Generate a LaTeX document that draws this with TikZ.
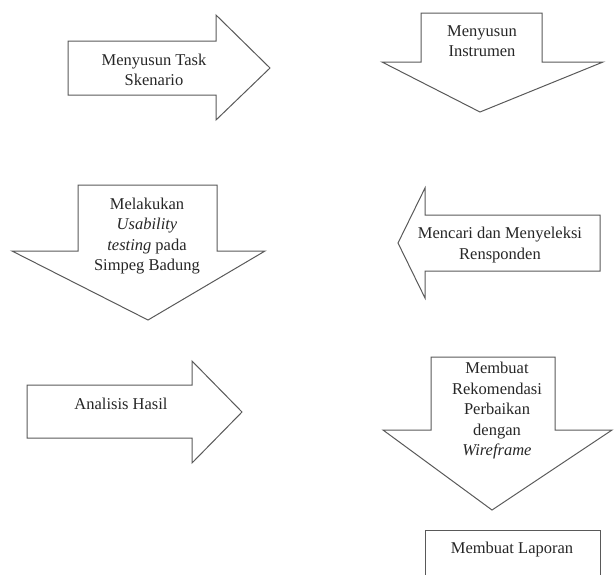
\documentclass[tikz,border=0pt]{standalone}
\usepackage{fontspec}
\setmainfont{Liberation Serif}
\newcommand{\TxtSize}{16.5}
\newcommand{\TxtSkip}{20.5}

\begin{document}
\begin{tikzpicture}[x=1pt,y=-1pt,
  blockarrow/.style={draw=black!65, line width=1pt, line join=miter},
  label/.style={font=\fontsize{\TxtSize}{\TxtSkip}\selectfont, align=center, text=black!85, inner sep=0pt}
]
\useasboundingbox (0,0) rectangle (615,574);

% ----- Row 1 -----
\draw[blockarrow] (68,41) -- (216,41) -- (216,15) -- (270,68) -- (216,120) -- (216,95) -- (68,95) -- cycle;
\node[label] (task) at (154,70) {Menyusun Task\\Skenario};

\draw[blockarrow] (421,13) -- (542,13) -- (542,62) -- (603,62) -- (480,112) -- (382,62) -- (421,62) -- cycle;
\node[label] (instrumen) at (482,41) {Menyusun\\Instrumen};

% ----- Row 2 -----
\draw[blockarrow] (78,185) -- (217,185) -- (217,251) -- (265,251) -- (148,320) -- (12,251) -- (78,251) -- cycle;
\node[label] (testing) at (147,236) {Melakukan\\\textit{Usability}\\\textit{testing} pada\\Simpeg Badung};

\draw[blockarrow] (600,215) -- (425,215) -- (425,188) -- (398,243) -- (425,298) -- (425,271) -- (600,271) -- cycle;
\node[label] (responden) at (500,245) {Mencari dan Menyeleksi\\Rensponden};

% ----- Row 3 -----
\draw[blockarrow] (27,385) -- (192,385) -- (192,361) -- (242,412) -- (192,463) -- (192,438) -- (27,438) -- cycle;
\node[label] (analisis) at (121,404) {Analisis Hasil};

\draw[blockarrow] (431,357) -- (555,357) -- (555,430) -- (612,430) -- (492,510) -- (383,430) -- (431,430) -- cycle;
\node[label] (rekomendasi) at (497,411) {Membuat\\Rekomendasi\\Perbaikan\\dengan\\\textit{Wireframe}};

% ----- Report box -----
\draw[blockarrow] (425,578) -- (425,530) -- (600,530) -- (600,578);
\node[label] (laporan) at (512,550) {Membuat Laporan};

\end{tikzpicture}
\end{document}
